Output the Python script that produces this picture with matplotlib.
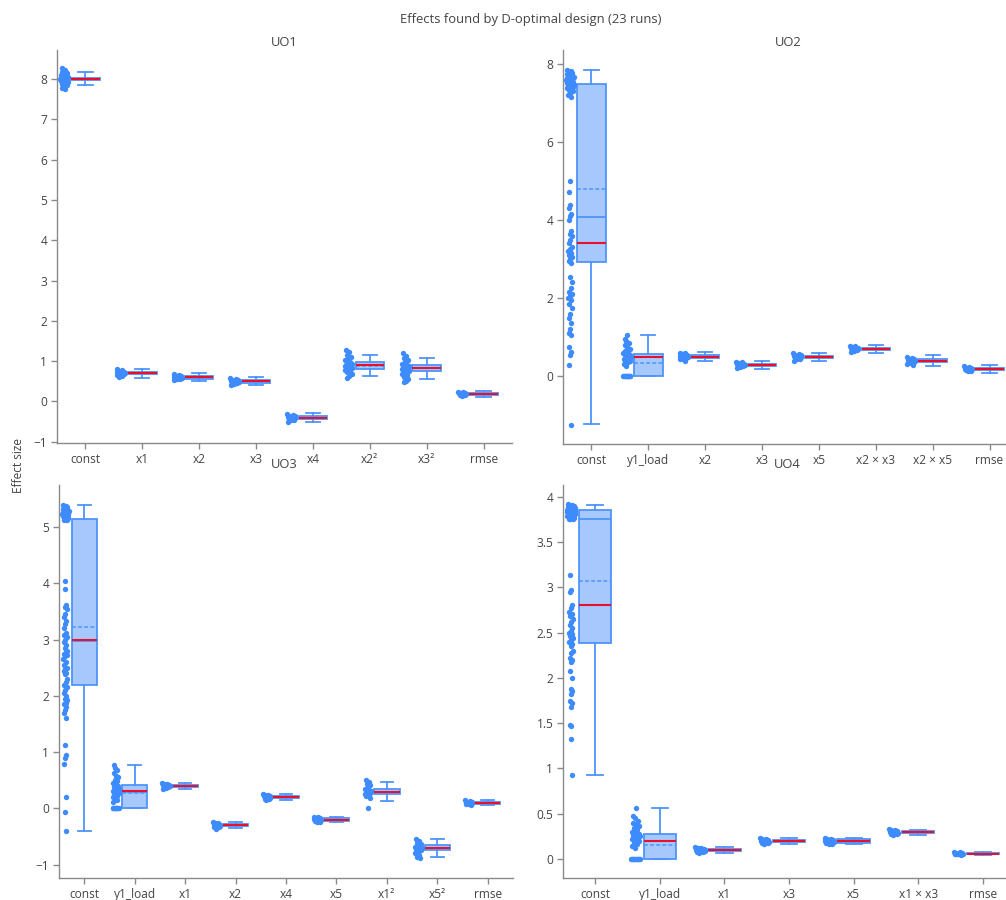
import matplotlib
matplotlib.use("Agg")
import matplotlib.pyplot as plt
from matplotlib.ticker import FuncFormatter
import numpy as np

plt.rcParams['font.family'] = ['Open Sans', 'DejaVu Sans']

# ---- UO1 ----
uo1_labels = ['const', 'x1', 'x2', 'x3', 'x4', 'x2²', 'x3²', 'rmse']
uo1_lo = [7.84, 0.59, 0.50, 0.40, -0.50, 0.62, 0.57, 0.12]
uo1_q1 = [7.97, 0.67, 0.57, 0.47, -0.43, 0.81, 0.76, 0.16]
uo1_med = [8.00, 0.70, 0.60, 0.50, -0.40, 0.90, 0.83, 0.19]
uo1_q3 = [8.03, 0.73, 0.63, 0.53, -0.37, 0.98, 0.91, 0.21]
uo1_hi = [8.17, 0.80, 0.71, 0.60, -0.28, 1.16, 1.08, 0.25]
uo1_mean = [8.00, 0.70, 0.60, 0.50, -0.40, 0.89, 0.83, 0.19]
uo1_true = [8.00, 0.70, 0.60, 0.50, -0.40, 0.90, 0.83, 0.19]
uo1_points = [
    [8.27, 8.22, 8.18, 8.15, 8.12, 8.10, 8.08, 8.06, 8.05, 8.04, 8.03, 8.02, 8.01, 8.00,
     8.00, 7.99, 7.98, 7.97, 7.96, 7.95, 7.94, 7.92, 7.90, 7.88, 7.85, 7.82, 7.78, 7.75],
    [0.80, 0.77, 0.75, 0.74, 0.73, 0.72, 0.71, 0.70, 0.70, 0.69, 0.68, 0.67, 0.66, 0.65, 0.63, 0.60],
    [0.68, 0.66, 0.64, 0.63, 0.62, 0.61, 0.60, 0.60, 0.59, 0.58, 0.57, 0.56, 0.55, 0.53],
    [0.58, 0.56, 0.54, 0.53, 0.52, 0.51, 0.50, 0.50, 0.49, 0.48, 0.47, 0.46, 0.44, 0.42],
    [-0.31, -0.33, -0.35, -0.37, -0.38, -0.39, -0.40, -0.40, -0.41, -0.42, -0.43, -0.45, -0.47, -0.50],
    [1.28, 1.22, 1.16, 1.10, 1.05, 1.02, 0.98, 0.96, 0.94, 0.92, 0.91, 0.90, 0.89, 0.88, 0.86,
     0.84, 0.82, 0.80, 0.78, 0.75, 0.72, 0.68, 0.64, 0.59],
    [1.20, 1.14, 1.08, 1.02, 0.97, 0.93, 0.91, 0.89, 0.87, 0.85, 0.84, 0.83, 0.82, 0.81, 0.79,
     0.77, 0.75, 0.72, 0.69, 0.65, 0.61, 0.57, 0.52, 0.48],
    [0.24, 0.23, 0.22, 0.21, 0.20, 0.20, 0.19, 0.19, 0.18, 0.17, 0.16, 0.15, 0.13],
]

# ---- UO2 ----
uo2_labels = ['const', 'y1_load', 'x2', 'x3', 'x5', 'x2 × x3', 'x2 × x5', 'rmse']
uo2_lo = [-1.23, 0.00, 0.38, 0.18, 0.38, 0.60, 0.26, 0.08]
uo2_q1 = [2.93, 0.00, 0.47, 0.26, 0.46, 0.67, 0.36, 0.15]
uo2_med = [4.08, 0.49, 0.50, 0.29, 0.49, 0.70, 0.39, 0.18]
uo2_q3 = [7.48, 0.56, 0.53, 0.31, 0.52, 0.73, 0.43, 0.21]
uo2_hi = [7.86, 1.06, 0.61, 0.38, 0.59, 0.81, 0.53, 0.28]
uo2_mean = [4.79, 0.34, 0.50, 0.29, 0.49, 0.70, 0.39, 0.18]
uo2_true = [3.42, 0.50, 0.50, 0.29, 0.49, 0.70, 0.39, 0.18]
uo2_points = [
    [7.86, 7.82, 7.80, 7.78, 7.76, 7.74, 7.72, 7.70, 7.68, 7.66, 7.65, 7.63, 7.62, 7.60, 7.58,
     7.57, 7.55, 7.53, 7.52, 7.50, 7.48, 7.47, 7.45, 7.43, 7.42, 7.40, 7.38, 7.36, 7.34, 7.30,
     7.25, 7.20, 7.15,
     5.00, 4.72, 4.38, 4.32, 4.15, 4.10, 4.00, 3.72, 3.65, 3.58, 3.50, 3.42, 3.30, 3.25, 3.20,
     3.15, 3.10, 3.05, 3.00, 2.95, 2.90, 2.55, 2.40, 2.25, 2.15, 2.10, 2.05, 2.00, 1.95, 1.85,
     1.75, 1.60, 1.50, 1.35, 1.20, 1.10, 1.05, 0.75, 0.62, 0.55, 0.28, -1.25],
    [0, 0, 0, 0, 0, 0, 0, 0, 0, 0, 0, 0,
     0.27, 0.30, 0.35, 0.38, 0.40, 0.42, 0.44, 0.46, 0.48, 0.50, 0.52, 0.54, 0.55, 0.57, 0.60,
     0.62, 0.65, 0.70, 0.75, 0.80, 0.85, 0.90, 0.95, 1.06],
    [0.60, 0.58, 0.56, 0.54, 0.53, 0.52, 0.51, 0.50, 0.50, 0.49, 0.48, 0.47, 0.45, 0.43, 0.40],
    [0.37, 0.35, 0.33, 0.32, 0.31, 0.30, 0.29, 0.29, 0.28, 0.27, 0.26, 0.25, 0.23, 0.20],
    [0.58, 0.56, 0.54, 0.53, 0.52, 0.51, 0.50, 0.49, 0.48, 0.47, 0.46, 0.45, 0.43, 0.40],
    [0.78, 0.76, 0.74, 0.73, 0.72, 0.71, 0.70, 0.70, 0.69, 0.68, 0.67, 0.66, 0.64, 0.62],
    [0.50, 0.47, 0.45, 0.43, 0.42, 0.41, 0.40, 0.39, 0.38, 0.37, 0.36, 0.35, 0.33, 0.31, 0.28],
    [0.25, 0.23, 0.21, 0.20, 0.19, 0.19, 0.18, 0.18, 0.17, 0.16, 0.15, 0.14, 0.12],
]

# ---- UO3 ----
uo3_labels = ['const', 'y1_load', 'x1', 'x2', 'x4', 'x5', 'x1²', 'x5²', 'rmse']
uo3_lo = [-0.40, 0.00, 0.34, -0.35, 0.15, -0.25, 0.13, -0.87, 0.06]
uo3_q1 = [2.20, 0.00, 0.38, -0.32, 0.18, -0.22, 0.25, -0.74, 0.08]
uo3_med = [2.98, 0.29, 0.40, -0.30, 0.20, -0.20, 0.29, -0.70, 0.10]
uo3_q3 = [5.15, 0.41, 0.42, -0.28, 0.22, -0.18, 0.34, -0.66, 0.12]
uo3_hi = [5.39, 0.77, 0.45, -0.25, 0.25, -0.15, 0.46, -0.55, 0.14]
uo3_mean = [3.23, 0.27, 0.40, -0.30, 0.20, -0.20, 0.29, -0.70, 0.10]
uo3_true = [3.00, 0.30, 0.40, -0.30, 0.20, -0.20, 0.29, -0.70, 0.10]
uo3_points = [
    [5.40, 5.38, 5.36, 5.35, 5.34, 5.32, 5.31, 5.30, 5.29, 5.28, 5.27, 5.26, 5.25, 5.24, 5.23,
     5.22, 5.21, 5.20, 5.19, 5.18, 5.17, 5.16, 5.15, 5.13, 5.12,
     4.05, 3.90, 3.62, 3.58, 3.55, 3.45, 3.40, 3.33, 3.28, 3.20, 3.12, 3.08, 3.05, 3.00, 2.95,
     2.90, 2.85, 2.80, 2.78, 2.75, 2.72, 2.70, 2.65, 2.60, 2.55, 2.50, 2.48, 2.45, 2.40, 2.38,
     2.30, 2.25, 2.20, 2.15, 2.10, 2.05, 2.00, 1.95, 1.92, 1.88, 1.85, 1.80, 1.75, 1.70, 1.60,
     1.12, 0.95, 0.90, 0.78, 0.20, -0.07, -0.40],
    [0, 0, 0, 0, 0, 0, 0, 0, 0, 0,
     0.12, 0.15, 0.18, 0.20, 0.22, 0.25, 0.27, 0.29, 0.30, 0.31, 0.33, 0.35, 0.37, 0.38, 0.40,
     0.42, 0.45, 0.48, 0.50, 0.55, 0.58, 0.62, 0.68, 0.72, 0.77],
    [0.45, 0.44, 0.43, 0.42, 0.41, 0.41, 0.40, 0.40, 0.39, 0.39, 0.38, 0.37, 0.36, 0.35],
    [-0.25, -0.26, -0.27, -0.28, -0.29, -0.29, -0.30, -0.30, -0.31, -0.32, -0.33, -0.34, -0.36],
    [0.25, 0.24, 0.23, 0.22, 0.21, 0.21, 0.20, 0.20, 0.19, 0.18, 0.17, 0.16, 0.15],
    [-0.15, -0.16, -0.17, -0.18, -0.19, -0.19, -0.20, -0.20, -0.21, -0.22, -0.23, -0.24, -0.25],
    [0.50, 0.47, 0.44, 0.41, 0.38, 0.35, 0.33, 0.31, 0.30, 0.29, 0.28, 0.27, 0.26, 0.25, 0.23,
     0.21, 0.18, 0.00],
    [-0.55, -0.58, -0.61, -0.64, -0.66, -0.68, -0.69, -0.70, -0.71, -0.72, -0.73, -0.75, -0.77,
     -0.80, -0.83, -0.86, -0.89],
    [0.14, 0.13, 0.12, 0.11, 0.11, 0.10, 0.10, 0.09, 0.09, 0.08, 0.07, 0.06],
]

# ---- UO4 ----
uo4_labels = ['const', 'y1_load', 'x1', 'x3', 'x5', 'x1 × x3', 'rmse']
uo4_lo = [0.93, 0.00, 0.07, 0.17, 0.16, 0.27, 0.04]
uo4_q1 = [2.39, 0.00, 0.09, 0.19, 0.18, 0.29, 0.05]
uo4_med = [3.76, 0.20, 0.10, 0.20, 0.20, 0.30, 0.06]
uo4_q3 = [3.85, 0.28, 0.11, 0.21, 0.22, 0.31, 0.07]
uo4_hi = [3.91, 0.56, 0.13, 0.23, 0.23, 0.32, 0.08]
uo4_mean = [3.07, 0.15, 0.10, 0.20, 0.20, 0.30, 0.06]
uo4_true = [2.80, 0.20, 0.10, 0.20, 0.20, 0.30, 0.06]
uo4_points = [
    [3.92, 3.91, 3.91, 3.90, 3.90, 3.89, 3.89, 3.88, 3.88, 3.87, 3.87, 3.86, 3.86, 3.85, 3.85,
     3.84, 3.84, 3.83, 3.83, 3.82, 3.82, 3.81, 3.81, 3.80, 3.80, 3.79, 3.79, 3.78, 3.78, 3.77,
     3.77, 3.76, 3.76, 3.75,
     3.14, 2.97, 2.95, 2.80, 2.77, 2.73, 2.70, 2.68, 2.65, 2.62, 2.58, 2.55, 2.52, 2.50, 2.48,
     2.46, 2.44, 2.42, 2.40, 2.37, 2.35, 2.30, 2.27, 2.22, 2.20, 2.17, 2.08, 2.00, 1.88, 1.85,
     1.82, 1.75, 1.72, 1.68, 1.48, 1.47, 1.32, 0.93],
    [0, 0, 0, 0, 0, 0, 0, 0, 0, 0, 0, 0,
     0.12, 0.14, 0.16, 0.18, 0.20, 0.21, 0.22, 0.23, 0.24, 0.25, 0.26, 0.27, 0.28, 0.29, 0.30,
     0.32, 0.34, 0.36, 0.38, 0.40, 0.42, 0.45, 0.48, 0.56],
    [0.13, 0.12, 0.12, 0.11, 0.11, 0.10, 0.10, 0.10, 0.09, 0.09, 0.08, 0.08, 0.07],
    [0.23, 0.22, 0.22, 0.21, 0.21, 0.20, 0.20, 0.20, 0.19, 0.19, 0.18, 0.18, 0.17],
    [0.23, 0.22, 0.22, 0.21, 0.21, 0.20, 0.20, 0.20, 0.19, 0.19, 0.18, 0.17, 0.16],
    [0.33, 0.32, 0.32, 0.31, 0.31, 0.30, 0.30, 0.30, 0.29, 0.29, 0.28, 0.28, 0.27],
    [0.08, 0.08, 0.07, 0.07, 0.06, 0.06, 0.06, 0.06, 0.05, 0.05, 0.05, 0.04],
]

BLUE = '#3d8bfd'
EDGE = '#4f94fb'
FILL = '#a6c8fc'
RED = '#e8112d'
AXIS = '#8a8a8a'
TEXT = '#444444'

W, H = 1006, 900


def axes_rect(left, right, top, bottom):
    return [left / W, 1 - bottom / H, (right - left) / W, (bottom - top) / H]


def jitter(values, span):
    # spread points sideways, wider where they are crowded
    vals = np.asarray(values, dtype=float)
    near = np.array([(np.abs(vals - v) < span).sum() for v in vals], dtype=float)
    scale = np.sqrt(near / near.max())
    k = np.arange(len(vals))
    offs = ((k * 0.618034) % 1.0) * 2 - 1
    return offs * 0.075 * scale


def draw_panel(ax, labels, lo, q1, med, q3, hi, mean, true, points, ylim, yticks):
    n = len(labels)
    pos = np.arange(n)
    stats = []
    for i in range(n):
        stats.append(dict(whislo=lo[i], q1=q1[i], med=med[i], q3=q3[i],
                          whishi=hi[i], mean=mean[i], fliers=[]))
    ax.bxp(stats, positions=pos, widths=0.5, capwidths=0.25, patch_artist=True,
           showmeans=True, meanline=True, showfliers=False,
           boxprops=dict(facecolor=FILL, edgecolor=EDGE, linewidth=1.3),
           whiskerprops=dict(color=EDGE, linewidth=1.3),
           capprops=dict(color=EDGE, linewidth=1.3),
           medianprops=dict(color=EDGE, linewidth=1.3),
           meanprops=dict(color=EDGE, linewidth=1.1, linestyle=(0, (2.5, 1.5))))
    ax.hlines(true, pos - 0.25, pos + 0.25, color=RED, linewidth=1.5, zorder=4)

    span = (ylim[1] - ylim[0]) * 0.02
    for i, pts in enumerate(points):
        x = pos[i] - 0.375 + jitter(pts, span)
        ax.scatter(x, pts, s=15, color=BLUE, linewidths=0, zorder=3)

    ax.set_xlim(-0.5, n - 0.5)
    ax.set_ylim(*ylim)
    ax.set_xticks(pos)
    ax.set_xticklabels(labels)
    ax.set_yticks(yticks)
    ax.yaxis.set_major_formatter(FuncFormatter(lambda v, p: f'{v:g}'.replace('-', '\u2212')))
    for side in ('top', 'right'):
        ax.spines[side].set_visible(False)
    for side in ('left', 'bottom'):
        ax.spines[side].set_color(AXIS)
        ax.spines[side].set_linewidth(1.0)
    ax.tick_params(direction='out', length=4, width=1, color=AXIS,
                   labelcolor=TEXT, labelsize=8.6, pad=3)


fig = plt.figure(figsize=(W / 100, H / 100), dpi=100)

ax1 = fig.add_axes(axes_rect(57, 512, 50, 443))
draw_panel(ax1, uo1_labels, uo1_lo, uo1_q1, uo1_med, uo1_q3, uo1_hi, uo1_mean, uo1_true,
           uo1_points, (-1.03, 8.72), range(-1, 9))

ax2 = fig.add_axes(axes_rect(563, 1018, 50, 444))
draw_panel(ax2, uo2_labels, uo2_lo, uo2_q1, uo2_med, uo2_q3, uo2_hi, uo2_mean, uo2_true,
           uo2_points, (-1.74, 8.36), [0, 2, 4, 6, 8])

ax3 = fig.add_axes(axes_rect(59, 513, 485, 878))
draw_panel(ax3, uo3_labels, uo3_lo, uo3_q1, uo3_med, uo3_q3, uo3_hi, uo3_mean, uo3_true,
           uo3_points, (-1.24, 5.75), range(-1, 6))

ax4 = fig.add_axes(axes_rect(563, 1015, 485, 878))
draw_panel(ax4, uo4_labels, uo4_lo, uo4_q1, uo4_med, uo4_q3, uo4_hi, uo4_mean, uo4_true,
           uo4_points, (-0.21, 4.13), np.arange(0, 4.01, 0.5))

for name, cx, cy in [('UO1', 284, 42), ('UO2', 788, 42), ('UO3', 284, 464), ('UO4', 787, 464)]:
    fig.text(cx / W, 1 - cy / H, name, ha='center', va='center', fontsize=9.4, color=TEXT)

fig.text(531 / W, 1 - 20 / H, 'Effects found by D-optimal design (23 runs)',
         ha='center', va='center', fontsize=9.4, color=TEXT)
fig.text(18 / W, 1 - 465 / H, 'Effect size', rotation=90,
         ha='center', va='center', fontsize=8.6, color=TEXT)

fig.savefig('out.png', dpi=100)
